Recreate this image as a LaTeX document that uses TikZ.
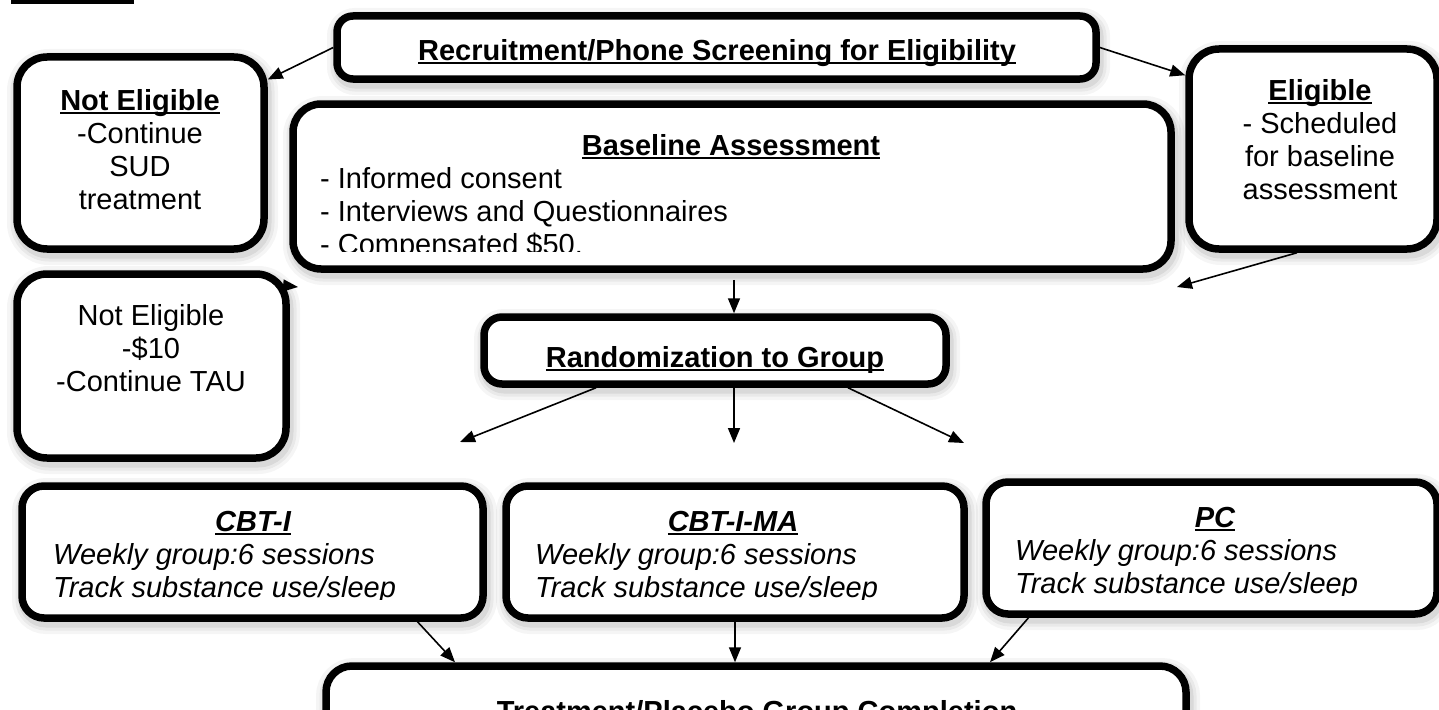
\documentclass[tikz,border=0pt]{standalone}
\usepackage{fontspec}
\setmainfont{Liberation Sans}
\usetikzlibrary{arrows.meta,calc}

% underline drawn as a rule under the text box
\newsavebox\undlbox
\newcommand\undl[1]{\sbox\undlbox{#1}\rlap{\rule[-4.2pt]{\wd\undlbox}{2.2pt}}\usebox\undlbox}

\begin{document}
\begin{tikzpicture}[x=1pt,y=-1pt,
  softshadow/.style={
    preaction={draw=black, draw opacity=0.04, line width=24pt, transform canvas={xshift=2pt,yshift=-4pt}},
    preaction={draw=black, draw opacity=0.05, line width=17pt, transform canvas={xshift=2pt,yshift=-4pt}},
    preaction={draw=black, draw opacity=0.07, line width=11pt, transform canvas={xshift=2pt,yshift=-4pt}}},
  panel/.style={softshadow, draw=black, line width=7.5pt, fill=white, rounded corners=#1, inner sep=0pt},
  arr/.style={line width=1.6pt, -{Triangle[length=15pt,width=12pt]}},
  txt/.style={font=\fontsize{29}{33}\selectfont, inner sep=0pt, anchor=base},
  ltxt/.style={txt, anchor=base west},
  ital/.style={ltxt, font=\fontsize{29}{33}\selectfont\itshape},
]
\useasboundingbox (0,0) rectangle (1439,709);
\clip (0,0) rectangle (1439,709);

% rule at the top left
\fill (11,0) rectangle (134,4);

% ---------- boxes ----------
\node[panel=16pt, minimum width=759pt, minimum height=63pt]  (rec)   at (716.5,47.5) {};
\node[panel=30pt, minimum width=247pt, minimum height=192pt] (ne1)   at (140.5,153)  {};
\node[panel=28pt, minimum width=878pt, minimum height=165pt] (base)  at (732,186.5)  {};
\node[panel=30pt, minimum width=248pt, minimum height=200pt] (elig)  at (1313,149)   {};
\node[panel=30pt, minimum width=269pt, minimum height=184pt] (ne2)   at (151.5,366)  {};
\node[panel=18pt, minimum width=462pt, minimum height=67pt]  (rand)  at (715,350.5)  {};
\node[panel=22pt, minimum width=461pt, minimum height=132pt] (cbt)   at (252.5,552)  {};
\node[panel=22pt, minimum width=458pt, minimum height=132pt] (cbtma) at (735,552)    {};
\node[panel=22pt, minimum width=451pt, minimum height=132pt] (pc)    at (1211.5,548) {};
\node[panel=26pt, minimum width=860pt, minimum height=124pt] (done)  at (756,728)    {};

% ---------- free ends ----------
\coordinate (eligtip) at (1177,287);
\coordinate (ne2tip)  at (298,287);
\coordinate (rl) at (460,442);
\coordinate (rm) at (734,443);
\coordinate (rr) at (964,443);

% ---------- connectors ----------
\draw[arr] (rec.west) -- (ne1.30);
\draw[arr] (rec.east) -- (elig.150);
\draw[arr] ($(elig.south)+(-16,0)$) -- (eligtip);
\draw[arr] (ne2.30) -- (ne2tip);
\draw[arr] ($(base.south)+(2,7)$) coordinate (b1) -- (b1 |- rand.north);
\draw[arr] ($(rand.south)+(-119,0)$) -- (rl);
\draw[arr] ($(rand.south)+(19,0)$) -- (rm);
\draw[arr] ($(rand.south)+(133,0)$) -- (rr);
\draw[arr] ($(cbt.south)+(165,0)$) -- ($(done.north)+(-301,0)$);
\draw[arr] (cbtma.south) -- (cbtma.south |- done.north);
\draw[arr] ($(pc.south)+(-183,0)$) -- ($(done.north)+(234,0)$);

% ---------- texts ----------
\node[txt] (rect) at (717,60) {\undl{\bfseries Recruitment/Phone Screening for Eligibility}};

\foreach \t [count=\i from 0] in {{\undl{\bfseries Not Eligible}},{-Continue},{SUD},{treatment}}
  \node[txt] (ne1t\i) at (140,110+33*\i) {\t};

\node[txt] (baset) at (731,155) {\undl{\bfseries Baseline Assessment}};
\begin{scope}
  \clip (293,104) rectangle (1171,251);
  \foreach \t [count=\i from 0] in {{- Informed consent},{- Interviews and Questionnaires},{- Compensated \$50.}}
    \node[ltxt] (basel\i) at (320,188+33*\i) {\t};
\end{scope}

\foreach \t [count=\i from 0] in {{\undl{\bfseries Eligible}},{- Scheduled},{for baseline},{assessment}}
  \node[txt] (eligt\i) at (1320,100+33*\i) {\t};

\foreach \t [count=\i from 0] in {{Not Eligible},{-\$10},{-Continue TAU}}
  \node[txt] (ne2t\i) at (151,325+33*\i) {\t};

\node[txt] (randt) at (715,367) {\undl{\bfseries Randomization to Group}};

\node[txt] (cbtt) at (253,531) {\undl{\bfseries\itshape CBT-I}};
\node[txt] (cbtmat) at (733,531) {\undl{\bfseries\itshape CBT-I-MA}};
\node[txt] (pct) at (1215,527) {\undl{\bfseries\itshape PC}};
\begin{scope}
  \clip (0,480) rectangle (1439,599);
  \node[ital] (cbtl0) at (53,564) {Weekly group:6 sessions};
  \node[ital] (cbtl1) at (53,597) {Track substance use/sleep};
  \node[ital] (cbtmal0) at (535,564) {Weekly group:6 sessions};
  \node[ital] (cbtmal1) at (535,597) {Track substance use/sleep};
\end{scope}
\begin{scope}
  \clip (0,480) rectangle (1439,595);
  \node[ital] (pcl0) at (1015,560) {Weekly group:6 sessions};
  \node[ital] (pcl1) at (1015,593) {Track substance use/sleep};
\end{scope}

\node[txt] (donet) at (757,721) {\undl{\bfseries Treatment/Placebo Group Completion}};
\end{tikzpicture}
\end{document}
